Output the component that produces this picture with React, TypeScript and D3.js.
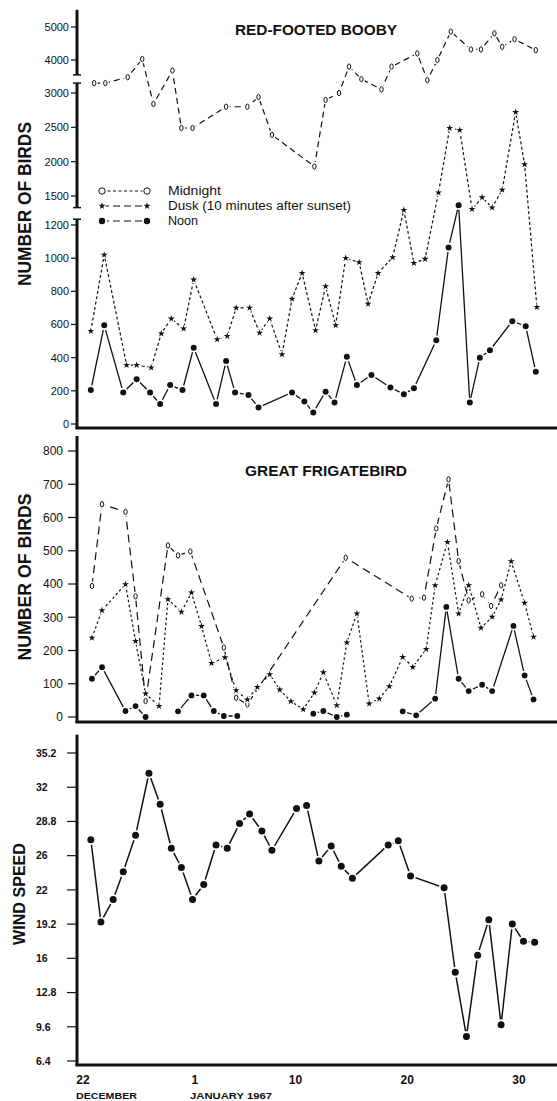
import React, { useEffect } from 'react';
import * as d3 from 'd3';

// x values are days after 22 December 1966
const dayTicks = [0, 10, 19, 29, 39];
const dayTickLabels = ['22', '1', '10', '20', '30'];

// Red-footed booby
const boobyMidnightDays = [1.0, 2.0, 4.0, 5.3, 6.3, 8.0, 8.8, 9.8, 12.8, 14.7, 15.7, 16.9, 20.7, 21.7, 22.9, 23.8, 24.9, 26.7, 27.6, 29.9, 30.8, 31.7, 32.9, 34.7, 35.6, 36.8, 37.5, 38.6, 40.5];
const boobyMidnight = [3300, 3300, 3480, 4030, 2840, 3680, 2490, 2490, 2800, 2800, 2940, 2390, 1930, 2900, 3000, 3800, 3420, 3110, 3800, 4200, 3390, 4000, 4860, 4320, 4320, 4810, 4400, 4630, 4300];
const boobyDuskDays = [0.7, 1.9, 3.9, 4.8, 6.1, 7.0, 7.9, 9.0, 9.9, 12.0, 12.9, 13.7, 14.9, 15.8, 16.7, 17.8, 18.7, 19.6, 20.8, 21.7, 22.6, 23.5, 24.7, 25.5, 26.4, 27.7, 28.7, 29.6, 30.6, 31.8, 32.8, 33.7, 34.8, 35.7, 36.6, 37.5, 38.7, 39.5, 40.6];
const boobyDusk = [560, 1020, 355, 355, 340, 545, 635, 575, 870, 510, 530, 700, 700, 550, 635, 420, 755, 910, 565, 830, 595, 1000, 975, 725, 910, 1005, 1355, 970, 995, 1550, 2490, 2460, 1365, 1485, 1380, 1590, 2720, 1960, 705];
const boobyNoonDays = [0.7, 1.9, 3.6, 4.8, 6.0, 6.9, 7.8, 8.9, 9.9, 11.9, 12.8, 13.6, 14.8, 15.7, 18.7, 19.8, 20.6, 21.7, 22.5, 23.6, 24.5, 25.8, 27.5, 28.7, 29.6, 31.6, 32.7, 33.6, 34.6, 35.5, 36.4, 38.4, 39.6, 40.5];
const boobyNoon = [205, 595, 190, 270, 190, 120, 235, 205, 460, 120, 380, 190, 175, 100, 190, 135, 70, 195, 130, 405, 235, 295, 220, 180, 215, 505, 1065, 1405, 130, 400, 445, 620, 590, 315];
const boobyTicks = [0, 200, 400, 600, 800, 1000, 1200, 1500, 2000, 2500, 3000, 4000, 5000];

// Great frigatebird (null = no count, line broken)
const frigMidnightDays = [0.8, 1.7, 3.8, 4.7, 5.6, 7.6, 8.5, 9.6, 12.6, 13.7, 14.7, 23.5, 29.4, 30.5, 31.6, 32.7, 33.6, 34.5, 35.7, 36.5, 37.4];
const frigMidnight = [394, 640, 617, 363, 48, 516, 486, 498, 209, 58, 38, 479, 356, 359, 567, 715, 469, 351, 369, 334, 396];
const frigDuskDays = [0.8, 1.7, 3.8, 4.7, 5.6, 6.8, 7.6, 8.8, 9.7, 10.6, 11.5, 12.7, 13.7, 14.7, 15.6, 16.7, 17.6, 18.6, 19.7, 20.7, 21.5, 22.7, 23.6, 24.5, 25.6, 26.5, 27.4, 28.6, 29.5, 30.7, 31.5, 32.6, 33.6, 34.5, 35.6, 36.6, 37.4, 38.3, 39.5, 40.3];
const frigDusk = [238, 321, 399, 228, 70, 33, 354, 316, 374, 273, 162, 179, 80, 52, 90, 128, 82, 47, 23, 73, 134, 35, 224, 311, 40, 55, 92, 180, 150, 204, 396, 526, 311, 396, 268, 301, 353, 468, 343, 241];
const frigNoonDays = [0.8, 1.7, 3.8, 4.7, 5.6, 7, 8.5, 9.7, 10.8, 11.7, 12.6, 13.8, 17, 20.6, 21.5, 22.7, 23.6, 26, 28.6, 29.8, 31.5, 32.5, 33.6, 34.5, 35.7, 36.6, 38.5, 39.5, 40.3];
const frigNoon = [115, 150, 18, 33, 0, null, 17, 65, 65, 18, 3, 3, null, 10, 18, 0, 7, null, 17, 5, 55, 331, 115, 78, 97, 78, 274, 125, 53];
const frigTicks = [0, 100, 200, 300, 400, 500, 600, 700, 800];

// Wind speed
const windDays = [0.7, 1.6, 2.7, 3.6, 4.7, 5.9, 6.9, 7.9, 8.8, 9.8, 10.8, 11.9, 12.9, 14.0, 14.9, 16.0, 16.9, 19.1, 20.0, 21.1, 22.2, 23.1, 24.1, 27.3, 28.2, 29.3, 32.3, 33.3, 34.3, 35.3, 36.3, 37.4, 38.4, 39.4, 40.4];
const windSpeed = [27.1, 19.4, 21.5, 24.1, 27.5, 33.3, 30.4, 26.3, 24.5, 21.5, 22.9, 26.6, 26.3, 28.6, 29.5, 27.9, 26.1, 30.0, 30.3, 25.1, 26.5, 24.6, 23.5, 26.6, 27.0, 23.7, 22.6, 14.7, 8.7, 16.3, 19.6, 9.8, 19.2, 17.6, 17.5];
const windTicks = [6.4, 9.6, 12.8, 16, 19.2, 22.4, 25.6, 28.8, 32, 35.2];
const windTickLabels = ['6.4', '9.6', '12.8', '16', '19.2', '22', '26', '28.8', '32', '35.2'];

const W = 557;
const H = 1101;
const AX = 77;
const INK = '#111';
const FONT = "'Liberation Sans', Arial, Helvetica, sans-serif";

const x = d3.scaleLinear().domain([0, 39]).range([83, 519]);
const yBooby = d3.scaleLinear().domain([0, 1200, 1500, 3000, 5000]).range([424, 225, 196, 93, 27]);
const yFrig = d3.scaleLinear().domain([0, 800]).range([717, 451]);
const yWind = d3.scaleLinear().domain([6.4, 35.2]).range([1061, 753]);

const starPath = d3.symbol().type(d3.symbolStar).size(15)() as string;

type Pt = [number, number | null];
const zip = (days: number[], vals: (number | null)[]): Pt[] => days.map((d, i) => [d, vals[i]]);

type Kind = 'open' | 'ring' | 'star' | 'dot';

const Marker = ({ kind, cx, cy, r = 3 }: { kind: Kind; cx: number; cy: number; r?: number }) => {
  if (kind === 'open') {
    return (
      <g transform={`translate(${cx},${cy})`}>
        <ellipse rx={3.6} ry={4.6} fill="#fff" />
        <ellipse rx={1.7} ry={2.7} fill="#fff" stroke={INK} strokeWidth={1} />
      </g>
    );
  }
  if (kind === 'ring') {
    return (
      <g transform={`translate(${cx},${cy})`}>
        <circle r={r + 1.5} fill="#fff" />
        <circle r={r} fill="#fff" stroke={INK} strokeWidth={1} />
      </g>
    );
  }
  if (kind === 'star') {
    return (
      <g transform={`translate(${cx},${cy})`}>
        <circle r={3.6} fill="#fff" />
        <path d={starPath} fill={INK} />
      </g>
    );
  }
  return (
    <g transform={`translate(${cx},${cy})`}>
      <circle r={r + 1.8} fill="#fff" />
      <circle r={r} fill={INK} />
    </g>
  );
};

const Series = ({ pts, y, dash, kind, r, width = 1.2 }: {
  pts: Pt[]; y: d3.ScaleLinear<number, number>; dash?: string; kind: Kind; r?: number; width?: number;
}) => {
  const line = d3.line<Pt>()
    .defined(d => d[1] != null)
    .x(d => x(d[0]))
    .y(d => y(d[1] as number));
  return (
    <g>
      <path d={line(pts) || ''} fill="none" stroke={INK} strokeWidth={width} strokeDasharray={dash} />
      {pts.filter(d => d[1] != null).map((d, i) => (
        <Marker key={i} kind={kind} cx={x(d[0])} cy={y(d[1] as number)} r={r} />
      ))}
    </g>
  );
};

const YTitle = ({ text, cx, cy, len, size }: { text: string; cx: number; cy: number; len: number; size: number }) => (
  <text
    transform={`translate(${cx},${cy}) rotate(-90)`}
    textAnchor="middle"
    dy="0.36em"
    fontFamily={FONT}
    fontWeight="bold"
    fontSize={size}
    textLength={len}
    lengthAdjust="spacingAndGlyphs"
    fill={INK}
  >
    {text}
  </text>
);

const LegendRow = ({ y, kind, dash, label, len }: { y: number; kind: Kind; dash: string; label: string; len: number }) => (
  <g>
    <line x1={102} x2={147} y1={y} y2={y} stroke={INK} strokeWidth={1.2} strokeDasharray={dash} />
    <Marker kind={kind} cx={102} cy={y} r={3.2} />
    <Marker kind={kind} cx={147} cy={y} r={3.2} />
    <text x={168} y={y} dy="0.36em" fontFamily={FONT} fontSize={12} fill={INK} textLength={len} lengthAdjust="spacingAndGlyphs">
      {label}
    </text>
  </g>
);

const App: React.FC = () => {
  useEffect(() => {
    document.body.style.margin = '0';
  }, []);

  // top axis pieces (broken scale)
  const boobySegments: [number, number][] = [
    [yBooby(5520), yBooby(3550)],
    [yBooby(3300), yBooby(1380)],
    [yBooby(1260), yBooby(0) + 5],
  ];

  return (
    <svg width={W} height={H} style={{ display: 'block', background: '#fff' }}>
      <rect width={W} height={H} fill="#fff" />

      {/* ---------- Red-footed booby ---------- */}
      <text x={316} y={35} textAnchor="middle" fontFamily={FONT} fontWeight="bold" fontSize={14} fill={INK}
        textLength={162} lengthAdjust="spacingAndGlyphs">RED-FOOTED BOOBY</text>
      <Series pts={zip(boobyMidnightDays, boobyMidnight)} y={yBooby} dash="6,4" kind="open" />
      <Series pts={zip(boobyDuskDays, boobyDusk)} y={yBooby} dash="3,2.4" kind="star" />
      <Series pts={zip(boobyNoonDays, boobyNoon)} y={yBooby} kind="dot" r={3} width={1.3} />

      <LegendRow y={191} kind="ring" dash="3,2.5" label="Midnight" len={53} />
      <LegendRow y={206} kind="star" dash="7,4" label="Dusk (10 minutes after sunset)" len={183} />
      <LegendRow y={221} kind="dot" dash="7,4" label="Noon" len={30} />

      {boobySegments.map(([a, b], i) => (
        <g key={i}>
          <line x1={AX} x2={AX} y1={a} y2={b} stroke={INK} strokeWidth={3} />
          {i > 0 && <line x1={AX - 4} x2={AX + 4} y1={a} y2={a} stroke={INK} strokeWidth={1.5} />}
          {i < 2 && <line x1={AX - 4} x2={AX + 4} y1={b} y2={b} stroke={INK} strokeWidth={1.5} />}
        </g>
      ))}
      <line x1={AX - 1.5} x2={W} y1={yBooby(0) + 4} y2={yBooby(0) + 4} stroke={INK} strokeWidth={3} />
      {boobyTicks.map(t => (
        <g key={t}>
          <line x1={AX - 6} x2={AX} y1={yBooby(t)} y2={yBooby(t)} stroke={INK} strokeWidth={1.2} />
          <text x={69} y={yBooby(t)} dy="0.36em" textAnchor="end" fontFamily={FONT} fontSize={11} fill={INK}>{t}</text>
        </g>
      ))}
      <YTitle text="NUMBER OF BIRDS" cx={24} cy={204} len={164} size={19} />

      {/* ---------- Great frigatebird ---------- */}
      <text x={326} y={476} textAnchor="middle" fontFamily={FONT} fontWeight="bold" fontSize={14} fill={INK}
        textLength={162} lengthAdjust="spacingAndGlyphs">GREAT FRIGATEBIRD</text>
      <Series pts={zip(frigMidnightDays, frigMidnight)} y={yFrig} dash="8,5" kind="open" />
      <Series pts={zip(frigDuskDays, frigDusk)} y={yFrig} dash="2.5,2.5" kind="star" />
      <Series pts={zip(frigNoonDays, frigNoon)} y={yFrig} kind="dot" r={2.9} width={1.3} />

      <line x1={AX} x2={AX} y1={yFrig(845)} y2={yFrig(0) + 6} stroke={INK} strokeWidth={3} />
      <line x1={AX - 1.5} x2={W} y1={yFrig(0) + 5} y2={yFrig(0) + 5} stroke={INK} strokeWidth={3} />
      {frigTicks.map(t => (
        <g key={t}>
          <line x1={AX - 9} x2={AX} y1={yFrig(t)} y2={yFrig(t)} stroke={INK} strokeWidth={1.2} />
          <text x={63} y={yFrig(t)} dy="0.36em" textAnchor="end" fontFamily={FONT} fontSize={12} fill={INK}>{t}</text>
        </g>
      ))}
      <YTitle text="NUMBER OF BIRDS" cx={24} cy={577} len={167} size={19} />

      {/* ---------- Wind speed ---------- */}
      <Series pts={zip(windDays, windSpeed)} y={yWind} kind="dot" r={3.5} width={1.5} />

      <line x1={AX} x2={AX} y1={yWind(36.9)} y2={yWind(6.4) + 5} stroke={INK} strokeWidth={3} />
      <line x1={AX - 1.5} x2={W} y1={yWind(6.4) + 4} y2={yWind(6.4) + 4} stroke={INK} strokeWidth={3} />
      {windTicks.map((t, i) => (
        <g key={t}>
          <line x1={AX - 10} x2={AX} y1={yWind(t)} y2={yWind(t)} stroke={INK} strokeWidth={1.2} />
          <text x={36} y={yWind(t)} dy="0.36em" fontFamily={FONT} fontWeight="bold" fontSize={10.5} fill={INK}>
            {windTickLabels[i]}
          </text>
        </g>
      ))}
      <YTitle text="WIND SPEED" cx={19} cy={894} len={102} size={17} />

      {/* ---------- shared date axis labels ---------- */}
      {dayTicks.map((d, i) => (
        <text key={d} x={x(d)} y={1084} textAnchor="middle" fontFamily={FONT} fontWeight="bold" fontSize={12} fill={INK}>
          {dayTickLabels[i]}
        </text>
      ))}
      <text x={76} y={1099} fontFamily={FONT} fontWeight="bold" fontSize={9} fill={INK}
        textLength={61} lengthAdjust="spacingAndGlyphs">DECEMBER</text>
      <text x={190} y={1099} fontFamily={FONT} fontWeight="bold" fontSize={9} fill={INK}
        textLength={82} lengthAdjust="spacingAndGlyphs">JANUARY 1967</text>
    </svg>
  );
};

export default App;
